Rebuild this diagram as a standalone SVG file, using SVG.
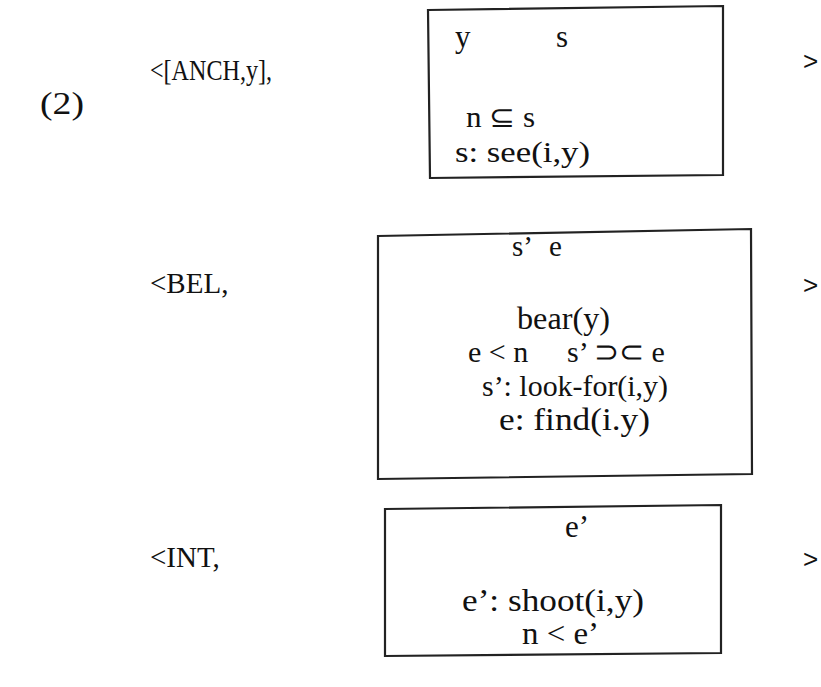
<svg xmlns="http://www.w3.org/2000/svg" width="821" height="687" viewBox="0 0 821 687">
<style>
.t{font-family:"Liberation Serif","Times New Roman",serif;font-size:29px;fill:#111;}
.box{fill:none;stroke:#222;stroke-width:2.2;}
.gt{font-family:"Liberation Sans",Arial,sans-serif;font-size:26px;fill:#111;}
</style>
<rect width="821" height="687" fill="#fff"/>
<text class="t" x="40" y="114" style="font-size:31px" textLength="44" lengthAdjust="spacingAndGlyphs">(2)</text>
<g id="row1">
<text class="t" x="150" y="80" style="font-size:30px" textLength="122" lengthAdjust="spacingAndGlyphs">&lt;[ANCH,y],</text>
<g id="box1">
<path class="box" d="M428,10 L723,6 L723,175 L430,178 Z"/>
<text class="t" x="455" y="47" style="font-size:31px">y</text>
<text class="t" x="556" y="47" style="font-size:31px">s</text>
<text class="t" x="466" y="127" textLength="69" lengthAdjust="spacingAndGlyphs">n ⊆ s</text>
<text class="t" x="455" y="162" style="font-size:30px" textLength="135" lengthAdjust="spacingAndGlyphs">s:  see(i,y)</text>
</g>
<text class="gt" x="803" y="70">&gt;</text>
</g>
<g id="row2">
<text class="t" x="150" y="293">&lt;BEL,</text>
<g id="box2">
<path class="box" d="M378,236 L751,229 L752,474 L378,479 Z"/>
<text class="t" x="512" y="256">s’</text>
<text class="t" x="549" y="256">e</text>
<text class="t" x="517" y="329" style="font-size:31px" textLength="93" lengthAdjust="spacingAndGlyphs">bear(y)</text>
<text class="t" x="468" y="362" style="font-size:30px">e &lt; n</text>
<text class="t" x="567" y="362" style="font-size:30px">s’ ⊃⊂ e</text>
<text class="t" x="482" y="396" style="font-size:30px" textLength="186" lengthAdjust="spacingAndGlyphs">s’: look-for(i,y)</text>
<text class="t" x="499" y="430" style="font-size:32px" textLength="151" lengthAdjust="spacingAndGlyphs">e: find(i.y)</text>
</g>
<text class="gt" x="803" y="294">&gt;</text>
</g>
<g id="row3">
<text class="t" x="150" y="567">&lt;INT,</text>
<g id="box3">
<path class="box" d="M385,509 L721,505 L721,653 L385,656 Z"/>
<text class="t" x="565" y="537" style="font-size:31px">e’</text>
<text class="t" x="462" y="611" style="font-size:32px" textLength="182" lengthAdjust="spacingAndGlyphs">e’: shoot(i,y)</text>
<text class="t" x="522" y="644" style="font-size:32px" textLength="77" lengthAdjust="spacingAndGlyphs">n &lt; e’</text>
</g>
<text class="gt" x="803" y="568">&gt;</text>
</g>
<g id="connectors"></g>
</svg>
